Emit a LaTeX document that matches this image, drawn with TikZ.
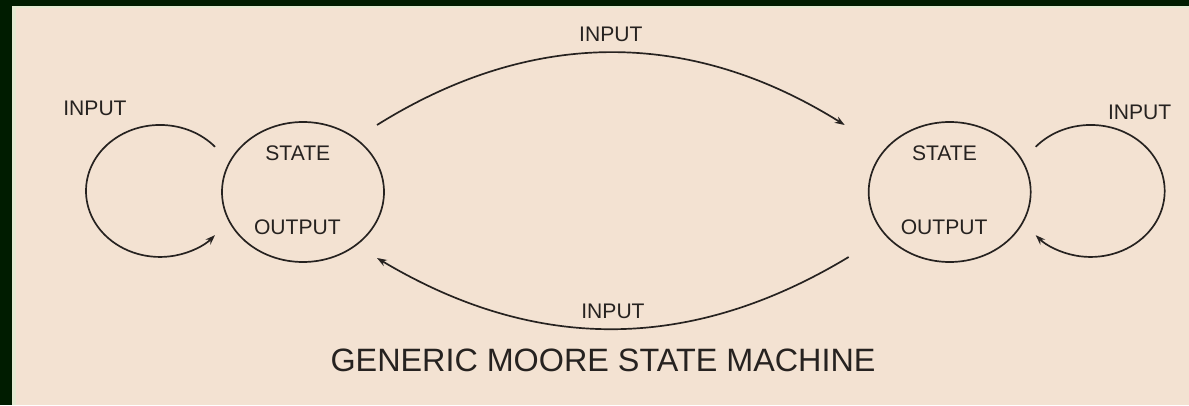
\documentclass[tikz,border=0pt]{standalone}
\usepackage{fontspec}
\setmainfont{Liberation Sans}
\usepackage{tikz}
\usetikzlibrary{positioning,arrows.meta,shapes.geometric,calc}
\definecolor{frame900}{HTML}{001C00}
\definecolor{frame100}{HTML}{E4EAD2}
\definecolor{paper100}{HTML}{F3E2D2}
\definecolor{ink700}{HTML}{262220}
\tikzset{
  every node/.style={font=\fontsize{15}{18}\selectfont, text=ink700},
  state/.style={
    ellipse, draw=ink700, line width=1.2pt,
    minimum width=4.05cm, minimum height=3.5cm
  },
  lbl/.style={font=\fontsize{15}{18}\selectfont, text=ink700},
  caption/.style={font=\fontsize{23}{28}\selectfont, text=ink700},
  arrow/.style={
    -{Stealth[length=7pt,width=5pt]},
    line width=1.2pt, draw=ink700
  },
}
\begin{document}
\begin{tikzpicture}
  % frame and paper
  \fill[frame900] (0,0) rectangle (29.725,10.125);
  \fill[frame100] (0.3,0) rectangle (29.725,9.975);
  \fill[paper100] (0.4,0) rectangle (29.725,9.925);
  \useasboundingbox (0,0) rectangle (29.725,10.125);

  \node[state] (s1) at (7.575,5.325) {};
  \node[state, right=12.075cm of s1] (s2) {};
  \node[lbl] (s1st) at ([xshift=-0.13cm,yshift=0.97cm]s1.center) {STATE};
  \node[lbl] (s1out) at ([xshift=-0.14cm,yshift=-0.88cm]s1.center) {OUTPUT};
  \node[lbl] (s2st) at ([xshift=-0.13cm,yshift=0.97cm]s2.center) {STATE};
  \node[lbl] (s2out) at ([xshift=-0.14cm,yshift=-0.88cm]s2.center) {OUTPUT};

  \draw[arrow] ([xshift=1.85cm,yshift=1.675cm]s1.center) to[bend left=32] node[midway, above=4pt] (in12) {INPUT} ([xshift=-2.625cm,yshift=1.675cm]s2.center);
  \draw[arrow] ([xshift=-2.525cm,yshift=-1.625cm]s2.center) to[bend left=31] node[midway, above=3pt] (in21) {INPUT} ([xshift=1.85cm,yshift=-1.65cm]s1.center);

  % self loops
  \draw[arrow] ([xshift=-2.2cm,yshift=1.13cm]s1.center) arc[start angle=42, end angle=318, x radius=1.85cm, y radius=1.65cm];
  \node[lbl] (in11) at ([xshift=-5.2cm,yshift=2.1cm]s1.center) {INPUT};
  \draw[arrow] ([xshift=2.15cm,yshift=1.13cm]s2.center) arc[start angle=138, end angle=-138, x radius=1.85cm, y radius=1.65cm];
  \node[lbl] (in22) at ([xshift=4.75cm,yshift=2.0cm]s2.center) {INPUT};

  \node[caption] (title) at (15.075,1.125) {GENERIC MOORE STATE MACHINE};
\end{tikzpicture}
\end{document}
